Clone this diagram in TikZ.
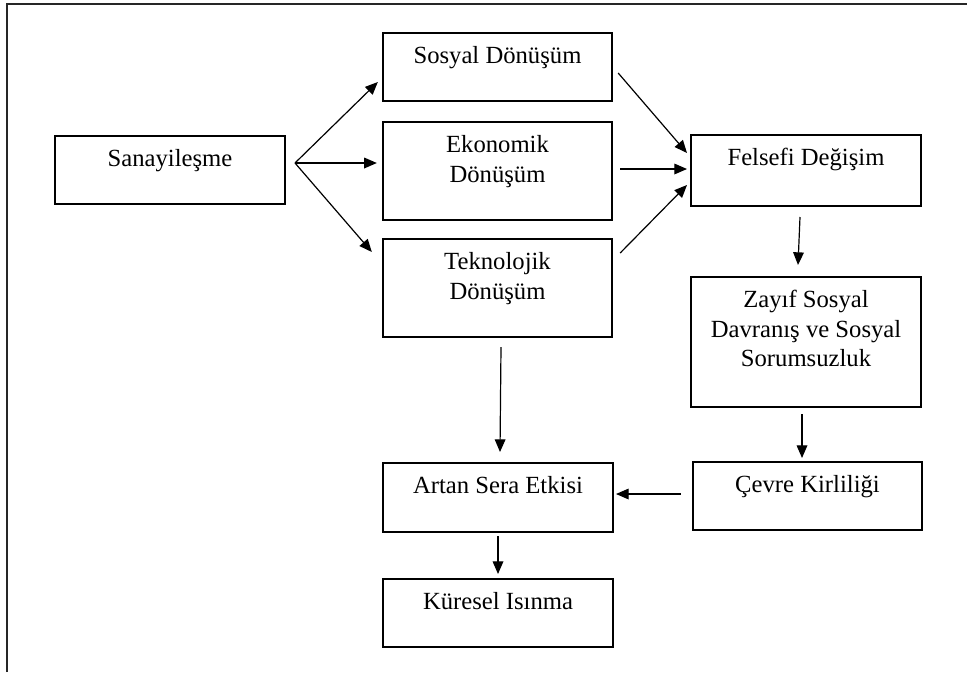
\documentclass[tikz,border=0pt]{standalone}
\usepackage{fontspec}
\setmainfont{Liberation Serif}
\usetikzlibrary{arrows.meta,calc}

% Box content: fixed-size paragraph, text set from the top
\newcommand{\btext}[3]{\parbox[c][#2][t]{#1}{\fontsize{18.5pt}{22.2pt}\selectfont\centering\rule{0pt}{22.9pt}#3\par}}

\tikzset{
  box/.style={draw, line width=1.1pt, inner sep=0pt, outer sep=0pt},
  arr/.style={line width=0.9pt, -{Triangle[length=9.5pt,width=8pt]}},
  frame/.style={line width=1.5pt, draw=black!85}
}

\begin{document}
\begin{tikzpicture}[x=0.75pt, y=-0.75pt]
  \useasboundingbox (0,0) rectangle (967,672);

  % outer frame (top and left edges)
  \draw[frame] (7.3,672) -- (7.3,3.7) -- (967,3.7);

  % boxes
  \node[box] (san) at (170,170)   {\btext{172.5pt}{51pt}{Sanayileşme}};
  \node[box] (sos) at (497.5,67)  {\btext{172pt}{51pt}{Sosyal Dönüşüm}};
  \node[box] (eko) at (497.5,171) {\btext{172pt}{73.5pt}{Ekonomik\\Dönüşüm}};
  \node[box] (tek) at (497.5,288) {\btext{172pt}{73.5pt}{Teknolojik\\Dönüşüm}};
  \node[box] (fel) at (806,170.5) {\btext{172.5pt}{53.25pt}{Felsefi Değişim}};
  \node[box] (zay) at (806,342)   {\btext{172.5pt}{97.5pt}{Zayıf Sosyal\\Davranış ve Sosyal\\Sorumsuzluk}};
  \node[box] (cev) at (807.5,496) {\btext{172pt}{51pt}{Çevre Kirliliği}};
  \node[box] (art) at (498,497.5) {\btext{172.5pt}{51.75pt}{Artan Sera Etkisi}};
  \node[box] (kur) at (498,613)   {\btext{172.5pt}{51pt}{Küresel Isınma}};

  % connector end points
  \coordinate (fan)   at ($(san.east)+(10,-7)$);
  \coordinate (sosIn) at ($(sos.west)+(-5,15)$);
  \coordinate (ekoIn) at ($(eko.west)+(-6,-8)$);
  \coordinate (tekIn) at ($(tek.north west)+(-11,13)$);

  \coordinate (sosOut) at ($(sos.east)+(6,6)$);
  \coordinate (ekoOut) at ($(eko.east)+(8,-2)$);
  \coordinate (tekOut) at ($(tek.east)+(8,-35)$);
  \coordinate (felIn1) at ($(fel.west)+(-4,-17.5)$);
  \coordinate (felIn2) at ($(fel.west)+(-4,-1.5)$);
  \coordinate (felIn3) at ($(fel.west)+(-4,14.5)$);

  \coordinate (felOut) at ($(fel.south)+(-6,11)$);
  \coordinate (zayIn)  at ($(zay.north)+(-8,-12)$);
  \coordinate (zayOut) at ($(zay.south)+(-4,7)$);
  \coordinate (cevIn)  at ($(cev.north)+(-5.5,-4)$);
  \coordinate (cevOut) at ($(cev.west)+(-12,-2)$);
  \coordinate (artIn1) at ($(art.east)+(3,-3.5)$);
  \coordinate (tekDn)  at ($(tek.south)+(3.5,10)$);
  \coordinate (artIn2) at ($(art.north)+(2,-11)$);
  \coordinate (artOut) at ($(art.south)+(0,4)$);
  \coordinate (kurIn)  at ($(kur.north)+(0,-5)$);

  % connectors
  \draw[arr] (fan) -- (sosIn);
  \draw[arr] (fan) -- (ekoIn);
  \draw[arr] (fan) -- (tekIn);

  \draw[arr] (sosOut) -- (felIn1);
  \draw[arr] (ekoOut) -- (felIn2);
  \draw[arr] (tekOut) -- (felIn3);

  \draw[arr] (felOut) -- (zayIn);
  \draw[arr] (zayOut) -- (cevIn);
  \draw[arr] (cevOut) -- (artIn1);
  \draw[arr] (tekDn)  -- (artIn2);
  \draw[arr] (artOut) -- (kurIn);
\end{tikzpicture}
\end{document}
